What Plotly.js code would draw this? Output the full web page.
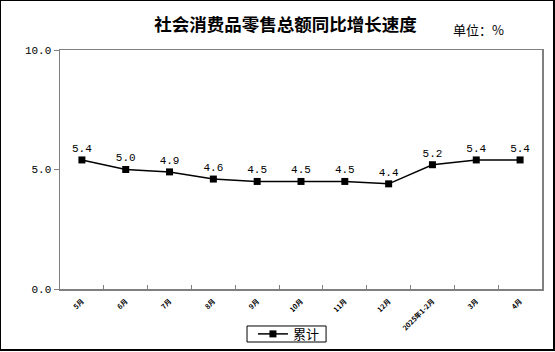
<!DOCTYPE html>
<html>
<head>
<meta charset="utf-8">
<script src="https://cdn.plot.ly/plotly-3.0.1.min.js"></script>
<style>
html,body{margin:0;padding:0;background:#fff;}
#wrap{position:absolute;left:0;top:0;width:555px;height:352px;}
#chart{width:555px;height:352px;}
#frame{position:absolute;left:0;top:0;width:552px;height:348px;border-left:1px solid #000;border-top:1px solid #000;border-right:2px solid #000;border-bottom:2px solid #000;pointer-events:none;}
</style>
</head>
<body>
<div id="wrap"><div id="chart"></div><div id="frame"></div></div>
<script>
const months = ["5月","6月","7月","8月","9月","10月","11月","12月","2025年1-2月","3月","4月"];
const growth = [5.4, 5.0, 4.9, 4.6, 4.5, 4.5, 4.5, 4.4, 5.2, 5.4, 5.4];
const seriesName = "累计";
const yTicks = [0, 5, 10];

const trace = {
  x: months,
  y: growth,
  name: seriesName,
  type: "scatter",
  mode: "lines+markers+text",
  text: growth.map(v => v.toFixed(1)),
  textposition: "top center",
  textfont: {family: "Liberation Mono, DejaVu Sans Mono, monospace", size: 11, color: "#000"},
  line: {color: "#000", width: 1.5},
  marker: {symbol: "square", size: 7, color: "#000"},
  cliponaxis: false
};

const layout = {
  width: 555, height: 352,
  margin: {l: 60, r: 13, t: 50, b: 63, autoexpand: false},
  paper_bgcolor: "#fff", plot_bgcolor: "#fff",
  font: {family: "Noto Sans CJK SC, sans-serif", color: "#000"},
  title: {
    text: "<b>社会消费品零售总额同比增长速度</b>",
    font: {family: "Noto Sans CJK SC", size: 17.5, color: "#000"},
    x: 0.468, xanchor: "center", xref: "paper",
    y: 22, yanchor: "middle", yref: "container"
  },
  xaxis: {
    type: "category", automargin: false,
    showline: true, linecolor: "#808080", linewidth: 1.5, mirror: true,
    showgrid: false, zeroline: false,
    ticks: "inside", tickson: "boundaries", ticklen: 4, tickcolor: "#808080",
    tickangle: -45, ticklabelstandoff: 4,
    tickfont: {family: "Noto Sans CJK SC", size: 7, color: "#000", weight: "bold"},
    range: [-0.5, months.length - 0.5]
  },
  yaxis: {
    automargin: false,
    range: [0, 10], tickvals: yTicks, ticktext: yTicks.map(v => v.toFixed(1)),
    showline: true, linecolor: "#808080", linewidth: 1.5, mirror: true,
    showgrid: false, zeroline: false,
    ticks: "outside", ticklen: 5, tickcolor: "#808080",
    tickfont: {family: "Liberation Mono, DejaVu Sans Mono, monospace", size: 11, color: "#000"}
  },
  showlegend: true,
  legend: {
    x: 0.475, xanchor: "center", xref: "paper",
    y: -0.188, yanchor: "middle", yref: "paper",
    orientation: "h",
    borderwidth: 0, bgcolor: "rgba(0,0,0,0)",
    font: {family: "Noto Sans CJK SC", size: 13, color: "#000"},
    itemwidth: 30
  },
  shapes: [{
    type: "rect", xref: "paper", yref: "paper",
    x0: 0.388, x1: 0.552, y0: -0.2218, y1: -0.1548,
    line: {color: "#000", width: 1}, fillcolor: "rgba(0,0,0,0)"
  }],
  annotations: [{
    text: "单位：%", xref: "paper", yref: "paper",
    x: 0.925, xanchor: "right", y: 1.084, yanchor: "middle",
    showarrow: false,
    font: {family: "Noto Sans CJK SC", size: 13, color: "#000"}
  }]
};

Plotly.newPlot("chart", [trace], layout, {displayModeBar: false, staticPlot: true});
</script>
</body>
</html>
